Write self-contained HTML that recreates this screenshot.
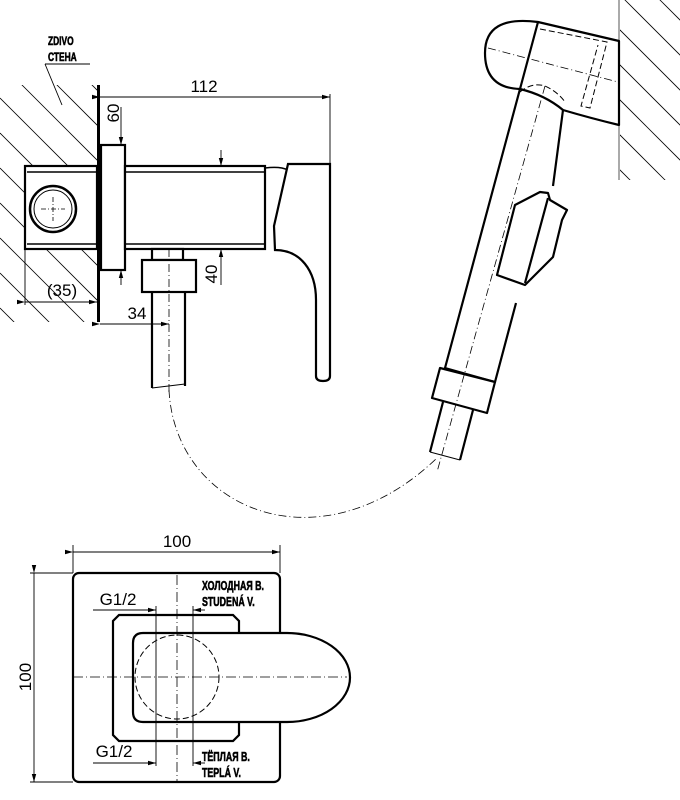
<!DOCTYPE html>
<html><head><meta charset="utf-8"><style>
html,body{margin:0;padding:0;background:#fff}
svg{display:block}
.t{font-family:"Liberation Sans",sans-serif;fill:#000}
.b{font-family:"Liberation Sans","DejaVu Sans",sans-serif;font-weight:bold;fill:#000;stroke:#000;stroke-width:0.6}
</style></head><body>
<svg width="680" height="800" viewBox="0 0 680 800" xmlns="http://www.w3.org/2000/svg">
<defs>
<clipPath id="w1"><rect x="0" y="85" width="97" height="237"/></clipPath>
<clipPath id="w2"><rect x="620" y="0" width="60" height="180"/></clipPath>
<marker id="a" markerWidth="8" markerHeight="6" refX="8" refY="3" orient="auto" markerUnits="userSpaceOnUse"><path d="M0,0.8 L8,3 L0,5.2 z" fill="#000"/></marker>
</defs>
<!-- left wall hatching -->
<g clip-path="url(#w1)" stroke="#000" stroke-width="0.8">
<line x1="0" y1="-77" x2="400" y2="323"/>
<line x1="0" y1="-42" x2="400" y2="358"/>
<line x1="0" y1="-7" x2="400" y2="393"/>
<line x1="0" y1="28" x2="400" y2="428"/>
<line x1="0" y1="63" x2="400" y2="463"/>
<line x1="0" y1="98" x2="400" y2="498"/>
<line x1="0" y1="133" x2="400" y2="533"/>
<line x1="0" y1="168" x2="400" y2="568"/>
<line x1="0" y1="203" x2="400" y2="603"/>
<line x1="0" y1="238" x2="400" y2="638"/>
<line x1="0" y1="273" x2="400" y2="673"/>
<line x1="0" y1="308" x2="400" y2="708"/>
</g>
<!-- right wall hatching -->
<g clip-path="url(#w2)" stroke="#000" stroke-width="0.8">
<line x1="560" y1="-100" x2="760" y2="100"/>
<line x1="560" y1="-65" x2="760" y2="135"/>
<line x1="560" y1="-30" x2="760" y2="170"/>
<line x1="560" y1="5" x2="760" y2="205"/>
<line x1="560" y1="40" x2="760" y2="240"/>
<line x1="560" y1="75" x2="760" y2="275"/>
<line x1="560" y1="110" x2="760" y2="310"/>
<line x1="560" y1="145" x2="760" y2="345"/>
</g>
<line x1="619" y1="0" x2="619" y2="180" stroke="#555" stroke-width="1"/>

<!-- ===== side view ===== -->
<g fill="#fff" stroke="#000" stroke-width="2.2">
<rect x="25" y="166" width="72" height="83"/>
<rect x="101" y="145" width="24" height="125"/>
<rect x="125" y="166" width="140" height="83"/>
<rect x="152" y="249" width="31" height="11"/>
<rect x="142" y="260" width="54" height="32"/>
<path d="M152,292 L152,388 M185,292 L185,386"/>
</g>
<line x1="98.5" y1="85" x2="98.5" y2="322" stroke="#000" stroke-width="3"/>
<g stroke="#000" stroke-width="1.5" fill="none">
<line x1="27" y1="172" x2="97" y2="172"/><line x1="27" y1="244" x2="97" y2="244"/>
<line x1="125" y1="172" x2="265" y2="172"/><line x1="125" y1="244" x2="265" y2="244"/>
<line x1="152" y1="388" x2="185" y2="384" stroke-width="1"/>
</g>
<circle cx="53" cy="209" r="23" fill="#fff" stroke="#000" stroke-width="2.5"/>
<circle cx="53" cy="209" r="19" fill="none" stroke="#000" stroke-width="1"/>
<path d="M41,209 H65 M53,197 V221" stroke="#000" stroke-width="0.8" stroke-dasharray="5,2,1,2"/>
<!-- lever -->
<path d="M265,168 Q280,166 288,170" fill="none" stroke="#000" stroke-width="1.5"/>
<path d="M288,164 L330,164 L330,376 Q330,381 323,381 Q316,381 316,376 L316,300 C316,270 300,250 275,250 L274,226 Z" fill="#fff" stroke="#000" stroke-width="2.2"/>
<line x1="169" y1="249" x2="169" y2="392" stroke="#000" stroke-width="0.8" stroke-dasharray="8,3,1,3"/>
<!-- dims -->
<g stroke="#000" stroke-width="0.9" fill="none">
<line x1="100" y1="97" x2="330" y2="97" marker-start="url(#a)" marker-end="url(#a)" />
<line x1="330" y1="94" x2="330" y2="164"/>
<line x1="121" y1="107" x2="121" y2="145" marker-end="url(#a)"/>
<line x1="221" y1="150" x2="221" y2="166" marker-end="url(#a)"/>
<line x1="221" y1="285" x2="221" y2="249" marker-end="url(#a)"/>
<line x1="121" y1="285" x2="121" y2="270" marker-end="url(#a)"/>
<line x1="25" y1="249" x2="25" y2="305"/>
<line x1="25" y1="302" x2="97" y2="302" marker-start="url(#a)" marker-end="url(#a)"/>
<line x1="100" y1="324" x2="169" y2="324" marker-start="url(#a)" marker-end="url(#a)"/>
<line x1="45" y1="64" x2="90" y2="64"/>
<line x1="45" y1="64" x2="62" y2="105"/>
</g>
<text class="t" x="204" y="92" font-size="17" text-anchor="middle">112</text>
<text class="t" font-size="17" text-anchor="middle" transform="translate(119,113) rotate(-90)">60</text>
<text class="t" font-size="17" text-anchor="middle" transform="translate(217,274) rotate(-90)">40</text>
<text class="t" x="62" y="296" font-size="17" text-anchor="middle">(35)</text>
<text class="t" x="137" y="319" font-size="17" text-anchor="middle">34</text>
<text class="b" font-size="12" transform="translate(48,45) scale(0.7,1)">ZDIVO</text>
<text class="b" font-size="12" transform="translate(48,61) scale(0.7,1)">СТЕНА</text>

<!-- ===== hand shower ===== -->
<path d="M169,390 C175,510 320,570 437,458" fill="none" stroke="#000" stroke-width="0.8" stroke-dasharray="8,3,1,3"/>
<g fill="#fff" stroke="#000" stroke-width="2.2" stroke-linejoin="round">
<path d="M520,89 L445,368 L495,382 L516,303 M529,270 L548,198 M553,186 L563,110"/>
<path d="M538,22 Q485,15 485,53 Q485,88 520,89 Q545,95 563,110 Q590,118 619,125 L619,41 Z"/>
<path d="M540,192 L548,193 L550,200 L567,210 L562,220 L553,257 L525,285 L497,275 L515,205 Z"/>
<path d="M440,368 L495,382 L487,413 L432,398 Z"/>
<path d="M443,402 L430,452 M473,410 L460,460" fill="none"/>
</g>
<line x1="538" y1="22" x2="520" y2="89" stroke="#000" stroke-width="2.2"/>
<line x1="548" y1="198" x2="525" y2="283" stroke="#000" stroke-width="2.2"/>
<line x1="430" y1="452" x2="460" y2="460" stroke="#000" stroke-width="1"/>
<g stroke="#000" stroke-width="1" fill="none" stroke-dasharray="6,3">
<path d="M540,29 L607,42 L590,108 L581,106 L598,45"/>
<path d="M520,92 Q532,82 545,86 Q558,92 565,102"/>
</g>
<g stroke="#000" stroke-width="0.8" stroke-dasharray="8,3,1,3" fill="none">
<line x1="488" y1="48" x2="618" y2="82"/>
<line x1="545" y1="86" x2="437" y2="472"/>
</g>

<!-- ===== front view ===== -->
<rect x="73" y="573" width="207" height="209" rx="6" fill="#fff" stroke="#000" stroke-width="2.2"/>
<path d="M119,615 L233,615 L239,621 L239,735 L233,741 L119,741 L113,735 L113,621 Z" fill="none" stroke="#000" stroke-width="2.2"/>
<path d="M143,633 L287,633 A63,44.5 0 0 1 287,722 L143,722 Q133,722 133,712 L133,643 Q133,633 143,633 Z" fill="#fff" stroke="#000" stroke-width="2.2"/>
<circle cx="177" cy="677" r="42" fill="none" stroke="#000" stroke-width="1" stroke-dasharray="6,3"/>
<g stroke="#000" stroke-width="0.8" stroke-dasharray="10,3,1,3">
<line x1="177" y1="575" x2="177" y2="782"/>
<line x1="73" y1="677" x2="347" y2="677"/>
</g>
<g stroke="#000" stroke-width="0.9" fill="none">
<line x1="73" y1="545" x2="73" y2="573"/><line x1="280" y1="545" x2="280" y2="573"/>
<line x1="73" y1="552" x2="280" y2="552" marker-start="url(#a)" marker-end="url(#a)"/>
<line x1="30" y1="573" x2="73" y2="573"/><line x1="30" y1="782" x2="73" y2="782"/>
<line x1="34" y1="573" x2="34" y2="782" marker-start="url(#a)" marker-end="url(#a)"/>
<line x1="93" y1="610" x2="156" y2="610" marker-end="url(#a)"/>
<line x1="156" y1="606" x2="156" y2="722"/>
<line x1="205" y1="610" x2="193" y2="610" marker-end="url(#a)"/>
<line x1="193" y1="606" x2="193" y2="722"/>
<line x1="93" y1="763" x2="156" y2="763" marker-end="url(#a)"/>
<line x1="156" y1="722" x2="156" y2="766"/>
<line x1="205" y1="763" x2="193" y2="763" marker-end="url(#a)"/>
<line x1="193" y1="722" x2="193" y2="766"/>
</g>
<text class="t" x="177" y="547" font-size="17" text-anchor="middle">100</text>
<text class="t" font-size="17" text-anchor="middle" transform="translate(31,677) rotate(-90)">100</text>
<text class="t" x="118" y="605" font-size="17" text-anchor="middle">G1/2</text>
<text class="t" x="114" y="757" font-size="17" text-anchor="middle">G1/2</text>
<text class="b" font-size="13" transform="translate(202,590) scale(0.68,1)">ХОЛОДНАЯ  В.</text>
<text class="b" font-size="13" transform="translate(202,606) scale(0.68,1)">STUDENÁ V.</text>
<text class="b" font-size="13" transform="translate(202,761) scale(0.68,1)">ТЁПЛАЯ  В.</text>
<text class="b" font-size="13" transform="translate(202,777) scale(0.68,1)">TEPLÁ V.</text>
</svg>
</body></html>
